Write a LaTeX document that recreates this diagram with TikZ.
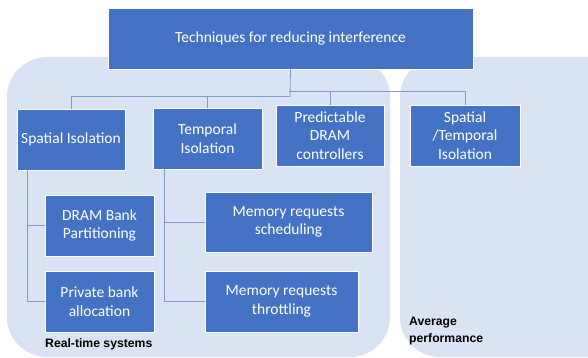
\documentclass[tikz,border=0pt]{standalone}
\usepackage{fontspec}
\setmainfont{Carlito}
\newfontfamily\labelfont{Liberation Sans}
\definecolor{boxblue}{RGB}{68,114,196}
\definecolor{regionblue}{RGB}{218,227,243}
\definecolor{linkblue}{RGB}{126,156,204}
\begin{document}
\begin{tikzpicture}[x=1pt,y=-1pt,line cap=round,line join=round,
  tech/.style={draw=white,line width=0.5pt,fill=boxblue,text=white,align=center,
    font=\fontsize{15.5}{18.5}\selectfont,inner sep=2pt,minimum height=61},
  link/.style={draw=linkblue,line width=0.8pt},
  region/.style={fill=regionblue,rounded corners=40},
  tag/.style={font=\labelfont\bfseries\fontsize{12.2}{16.5}\selectfont,align=left,anchor=west,inner sep=0pt}]
\useasboundingbox (0,0) rectangle (588,358);

% ---- background regions ----
\fill[region] (7,57) rectangle (390,357);
\fill[region] (400,57) rectangle (640,357);

% ---- boxes ----
\node[tech,minimum width=365] (top) at (290.5,38.5) {Techniques for reducing interference};
\node[tech,minimum width=108] (spatial) at (71,139.5) {Spatial Isolation};
\node[tech,minimum width=109] (temporal) at (207.5,138.5) {Temporal\\Isolation};
\node[tech,minimum width=108] (predictable) at (330,135.5) {Predictable\\DRAM\\controllers};
\node[tech,minimum width=110] (spt) at (465,135.5) {Spatial\\/Temporal\\Isolation};
\node[tech,minimum width=109] (bankpart) at (99.5,225.5) {DRAM Bank\\Partitioning};
\node[tech,minimum width=109] (privbank) at (99.5,301.5) {Private bank\\allocation};
\node[tech,minimum width=167,minimum height=60] (memsched) at (288.5,222) {Memory requests\\scheduling};
\node[tech,minimum width=153] (memthrot) at (281.5,301.5) {Memory requests\\throttling};

% ---- connectors ----
\coordinate (hubL) at (290,96);
\coordinate (hubR) at (290,91);
\draw[link] (top.south) -- (hubL);
\draw[link] (hubL) -| (spatial.north);
\draw[link] (hubL -| temporal.north) -- (temporal.north);
\draw[link] (hubR) -| (predictable.north);
\draw[link] (hubR) -| (spt.north);

\coordinate (spTrunk) at (27,170);
\draw[link] (spTrunk) |- (privbank.west);
\draw[link] (spTrunk |- bankpart.west) -- (bankpart.west);

\coordinate (tmTrunk) at (164,169);
\draw[link] (tmTrunk) |- (memthrot.west);
\draw[link] (tmTrunk |- memsched.west) -- (memsched.west);

% ---- region labels ----
\node[tag] (rtlabel) at (45,344) {Real-time systems};
\node[tag] (avglabel) at (409,331) {Average\\performance};
\end{tikzpicture}
\end{document}
